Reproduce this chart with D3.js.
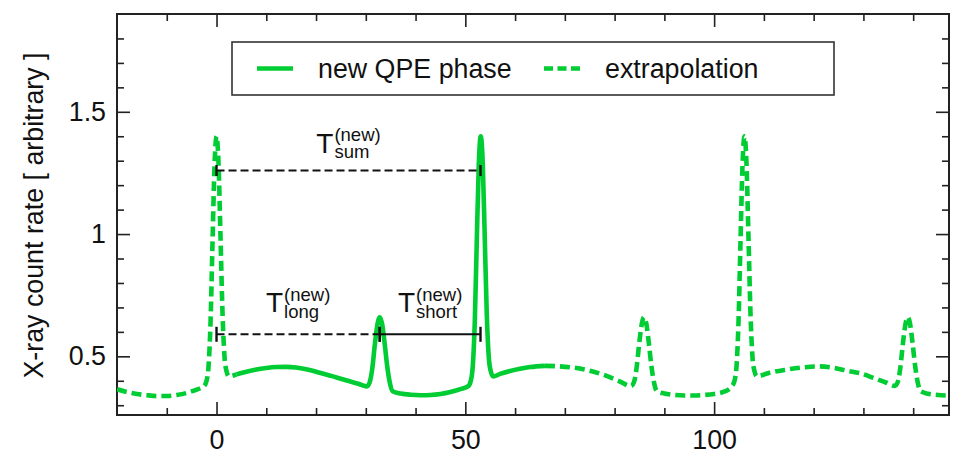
<!DOCTYPE html>
<html>
<head>
<meta charset="utf-8">
<script src="https://cdn.jsdelivr.net/npm/d3@7"></script>
<style>
  body { margin: 0; background: #fff; }
  svg { display: block; }
  text { font-family: "Liberation Sans", Arial, Helvetica, sans-serif; fill: #111; }
</style>
</head>
<body>
<svg id="chart" width="966" height="461"></svg>
<script>
// Light curve samples: time [days] and X-ray count rate [arbitrary]
const time = [
  -20, -18, -16, -14, -12, -10, -8, -6, -4.5, -3.2,
  -2.5, -2.0, -1.6, -1.2, -0.8, -0.4, 0, 0.4, 0.8, 1.2, 1.6, 2.0, 2.5,
  4, 6, 8, 10, 12, 14, 16, 18, 20, 23, 26, 28.5, 30.2,
  30.8, 31.3, 31.8, 32.3, 32.8, 33.3, 33.8, 34.3, 34.8, 35.4,
  37, 39, 41, 43, 45, 47, 49,
  50.6, 51.1, 51.5, 51.9, 52.3, 52.7, 53.1, 53.5, 53.9, 54.3, 54.7, 55.1, 55.6,
  57, 59, 61, 63, 66, 69, 72, 75, 78, 81, 83.3,
  83.9, 84.4, 84.9, 85.4, 85.9, 86.4, 86.9, 87.4, 87.9, 88.5,
  90, 92, 94, 96, 98, 100, 101.5, 103,
  103.6, 104.1, 104.5, 104.9, 105.3, 105.7, 106.1, 106.5, 106.9, 107.3, 107.7, 108.1, 108.6,
  111, 114.4, 118, 121, 124, 127, 129.1, 132, 134.5, 136.3,
  136.9, 137.4, 137.9, 138.4, 138.9, 139.4, 139.9, 140.4, 140.9, 141.5,
  143, 145, 147.2
];
const rate = [
  0.365, 0.354, 0.346, 0.341, 0.338, 0.338, 0.342, 0.350, 0.360, 0.370,
  0.378, 0.40, 0.46, 0.64, 0.97, 1.28, 1.40, 1.29, 0.99, 0.68, 0.50, 0.44, 0.418,
  0.426, 0.437, 0.446, 0.452, 0.456, 0.457, 0.454, 0.447, 0.437, 0.420, 0.402, 0.388, 0.377,
  0.395, 0.45, 0.545, 0.625, 0.66, 0.63, 0.55, 0.46, 0.395, 0.357,
  0.348, 0.343, 0.341, 0.342, 0.346, 0.354, 0.366,
  0.378, 0.40, 0.46, 0.64, 0.97, 1.28, 1.40, 1.29, 0.99, 0.68, 0.50, 0.44, 0.418,
  0.428, 0.440, 0.449, 0.456, 0.461, 0.459, 0.453, 0.441, 0.423, 0.398, 0.378,
  0.395, 0.45, 0.545, 0.625, 0.66, 0.63, 0.55, 0.46, 0.395, 0.357,
  0.348, 0.342, 0.340, 0.340, 0.342, 0.346, 0.352, 0.365,
  0.378, 0.40, 0.46, 0.64, 0.97, 1.28, 1.40, 1.29, 0.99, 0.68, 0.50, 0.44, 0.418,
  0.432, 0.445, 0.455, 0.459, 0.453, 0.440, 0.432, 0.412, 0.393, 0.379,
  0.395, 0.45, 0.545, 0.625, 0.66, 0.63, 0.55, 0.46, 0.395, 0.357,
  0.347, 0.342, 0.339
];

// Observed interval of the new QPE phase (the rest is extrapolated)
const newPhaseStart = 4;
const newPhaseEnd = 66;

// Recurrence times between eruptions
const periodNames  = ["sum", "long", "short"];
const periodStart  = [0, 0, 32.8];
const periodEnd    = [53.05, 32.8, 53.05];
const periodLevel  = [1.26, 0.59, 0.59];

// Axis ticks and labels
const xMajorTicks = [0, 50, 100];
const xMinorTicks = [-10, 10, 20, 30, 40, 60, 70, 80, 90, 110, 120, 130, 140];
const xTickLabels = ["0", "50", "100"];
const yMajorTicks = [0.5, 1, 1.5];
const yMinorTicks = [0.3, 0.4, 0.6, 0.7, 0.8, 0.9, 1.1, 1.2, 1.3, 1.4, 1.6, 1.7, 1.8];
const yTickLabels = ["0.5", "1", "1.5"];
const yTitle = "X-ray count rate [ arbitrary ]";
const legendLabels = ["new QPE phase", "extrapolation"];

// ---- layout ----
const plot = { left: 117, right: 949, top: 14, bottom: 415 };
const green = "#00cc33";
const axisColor = "#222";

const svg = d3.select("#chart");
const x = d3.scaleLinear().domain([-20, 147.2]).range([plot.left, plot.right]);
const y = d3.scaleLinear().domain([0.26, 1.9]).range([plot.bottom, plot.top]);

// ---- ticks (inward, mirrored on all four sides) ----
function styleAxis(g) {
  g.select(".domain").remove();
  g.selectAll(".tick line").attr("stroke", axisColor).attr("stroke-width", 1.6);
  g.selectAll(".tick text").attr("font-size", 26.8).attr("fill", "#111")
    .attr("font-family", '"Liberation Sans", Arial, sans-serif');
}
const xLab = v => xTickLabels[xMajorTicks.indexOf(v)];
const yLab = v => yTickLabels[yMajorTicks.indexOf(v)];

svg.append("g").attr("transform", `translate(0,${plot.bottom})`)
  .call(d3.axisBottom(x).tickValues(xMajorTicks).tickFormat(xLab).tickSize(-13).tickPadding(14.5)).call(styleAxis);
svg.append("g").attr("transform", `translate(0,${plot.bottom})`)
  .call(d3.axisBottom(x).tickValues(xMinorTicks).tickFormat("").tickSize(-7)).call(styleAxis);
svg.append("g").attr("transform", `translate(0,${plot.top})`)
  .call(d3.axisTop(x).tickValues(xMajorTicks).tickFormat("").tickSize(-13)).call(styleAxis);
svg.append("g").attr("transform", `translate(0,${plot.top})`)
  .call(d3.axisTop(x).tickValues(xMinorTicks).tickFormat("").tickSize(-7)).call(styleAxis);

svg.append("g").attr("transform", `translate(${plot.left},0)`)
  .call(d3.axisLeft(y).tickValues(yMajorTicks).tickFormat(yLab).tickSize(-13).tickPadding(11)).call(styleAxis);
svg.append("g").attr("transform", `translate(${plot.left},0)`)
  .call(d3.axisLeft(y).tickValues(yMinorTicks).tickFormat("").tickSize(-7)).call(styleAxis);
svg.append("g").attr("transform", `translate(${plot.right},0)`)
  .call(d3.axisRight(y).tickValues(yMajorTicks).tickFormat("").tickSize(-13)).call(styleAxis);
svg.append("g").attr("transform", `translate(${plot.right},0)`)
  .call(d3.axisRight(y).tickValues(yMinorTicks).tickFormat("").tickSize(-7)).call(styleAxis);

// frame
svg.append("rect")
  .attr("x", plot.left).attr("y", plot.top)
  .attr("width", plot.right - plot.left).attr("height", plot.bottom - plot.top)
  .attr("fill", "none").attr("stroke", axisColor).attr("stroke-width", 2);

// y-axis title
svg.append("text")
  .attr("transform", `translate(42.5,${(plot.top + plot.bottom) / 2 + 1}) rotate(-90)`)
  .attr("text-anchor", "middle").attr("font-size", 26.8)
  .text(yTitle);

// ---- light curve ----
svg.append("clipPath").attr("id", "plotClip").append("rect")
  .attr("x", plot.left).attr("y", plot.top)
  .attr("width", plot.right - plot.left).attr("height", plot.bottom - plot.top);

const points = time.map((t, i) => ({ t, r: rate[i] }));
const line = d3.line().x(d => x(d.t)).y(d => y(d.r)).curve(d3.curveMonotoneX);

const before = points.filter(d => d.t <= newPhaseStart);
const during = points.filter(d => d.t >= newPhaseStart && d.t <= newPhaseEnd);
const after  = points.filter(d => d.t >= newPhaseEnd);

const curves = svg.append("g").attr("clip-path", "url(#plotClip)")
  .attr("fill", "none").attr("stroke", green).attr("stroke-width", 4.6);
curves.append("path").datum(before).attr("d", line).attr("stroke-dasharray", "10,5");
curves.append("path").datum(during).attr("d", line).attr("stroke-linejoin", "round");
curves.append("path").datum(after).attr("d", line).attr("stroke-dasharray", "10,5");

// ---- recurrence-time bars ----
const bars = svg.append("g").attr("stroke", "#111");
periodNames.forEach((name, i) => {
  const x0 = x(periodStart[i]), x1 = x(periodEnd[i]), yy = y(periodLevel[i]);
  const capH = name === "sum" ? 5.5 : 7.5;
  bars.append("line")
    .attr("x1", x0).attr("x2", x1).attr("y1", yy).attr("y2", yy)
    .attr("stroke-width", 2)
    .attr("stroke-dasharray", name === "short" ? null : "8,4");
  [x0, x1].forEach(xc => bars.append("line")
    .attr("x1", xc).attr("x2", xc).attr("y1", yy - capH).attr("y2", yy + capH)
    .attr("stroke-width", 2.4));

  // label: T with superscript "(new)" and the period's name as subscript
  const lift = name === "sum" ? 17.5 : 22;
  const g = svg.append("g");
  const tT = g.append("text").attr("font-size", 28).text("T");
  const tSup = g.append("text").attr("font-size", 18.5).text("(new)");
  const tSub = g.append("text").attr("font-size", 18.5).text(name);
  const wT = tT.node().getComputedTextLength();
  const wS = Math.max(tSup.node().getComputedTextLength(), tSub.node().getComputedTextLength());
  const left = (x0 + x1) / 2 - (wT + 1 + wS) / 2;
  const base = yy - lift;
  tT.attr("x", left).attr("y", base);
  tSup.attr("x", left + wT + 1).attr("y", base - 11.5);
  tSub.attr("x", left + wT + 1).attr("y", base + 5.5);
});

// ---- legend ----
const legend = svg.append("g");
legend.append("rect").attr("x", 232).attr("y", 42).attr("width", 602).attr("height", 53)
  .attr("fill", "#fff").attr("stroke", "#333").attr("stroke-width", 1.6);
legend.append("line").attr("x1", 257).attr("x2", 293).attr("y1", 68.5).attr("y2", 68.5)
  .attr("stroke", green).attr("stroke-width", 4.6);
legend.append("text").attr("x", 318).attr("y", 78).attr("font-size", 26.8).text(legendLabels[0]);
legend.append("line").attr("x1", 544).attr("x2", 580).attr("y1", 68.5).attr("y2", 68.5)
  .attr("stroke", green).attr("stroke-width", 4.6).attr("stroke-dasharray", "9,4.5");
legend.append("text").attr("x", 605).attr("y", 78).attr("font-size", 26.8).text(legendLabels[1]);
</script>
</body>
</html>
